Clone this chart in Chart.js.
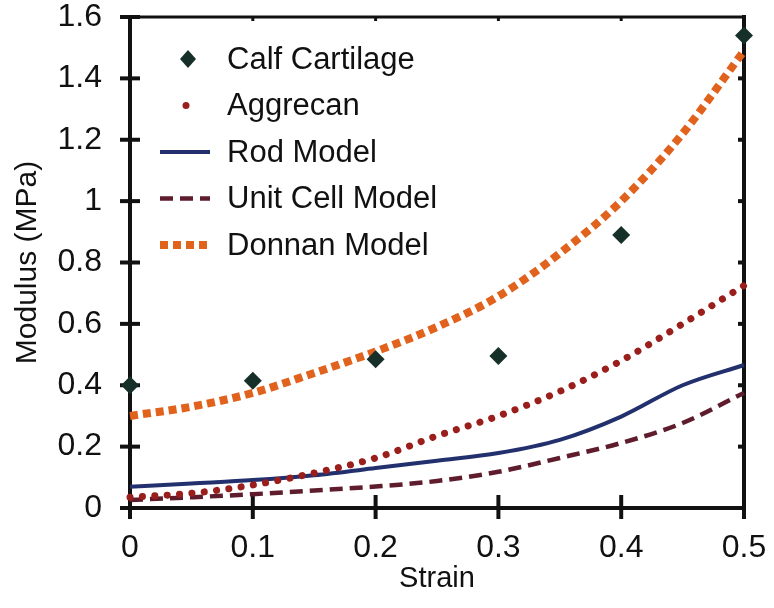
<!DOCTYPE html>
<html>
<head>
<meta charset="utf-8">
<script src="https://cdn.jsdelivr.net/npm/chart.js@4"></script>
<style>
  html, body { margin: 0; padding: 0; background: #fff; }
  #wrap { width: 774px; height: 608px; }
</style>
</head>
<body>
<div id="wrap"><canvas id="modulusChart" width="774" height="608"></canvas></div>
<script>
// data
const sampleStrain = [0, 0.1, 0.2, 0.3, 0.4, 0.5];
const calfCartilage = [0.40, 0.415, 0.485, 0.495, 0.89, 1.54];

const modelStrain = [0, 0.05, 0.1, 0.15, 0.2, 0.25, 0.3, 0.35, 0.4, 0.45, 0.5];
const aggrecan = [0.035, 0.048, 0.075, 0.114, 0.163, 0.235, 0.30, 0.38, 0.48, 0.60, 0.725];
const rodModel = [0.069, 0.08, 0.091, 0.107, 0.13, 0.154, 0.179, 0.222, 0.298, 0.40, 0.466];
const unitCellModel = [0.026, 0.035, 0.045, 0.057, 0.07, 0.088, 0.118, 0.163, 0.212, 0.277, 0.375];
const donnanModel = [0.30, 0.33, 0.375, 0.44, 0.51, 0.59, 0.69, 0.83, 1.00, 1.22, 1.49];

const xTickLabels = ["0", "0.1", "0.2", "0.3", "0.4", "0.5"];
const yTickLabels = ["0", "0.2", "0.4", "0.6", "0.8", "1", "1.2", "1.4", "1.6"];

const FONT = "'Liberation Sans', Arial, Helvetica, sans-serif";

function toXY(xs, ys) {
    return xs.map((x, i) => ({ x: x, y: ys[i] }));
}

// axes box with crossing ticks, drawn under the data
const framePlugin = {
    id: "frame",
    beforeDatasetsDraw(chart) {
        const { ctx, chartArea: a, scales: { x, y } } = chart;
        ctx.save();
        ctx.strokeStyle = "#111";
        ctx.lineCap = "square";
        ctx.lineWidth = 3;
        ctx.beginPath();
        ctx.moveTo(a.left, a.top);
        ctx.lineTo(a.right, a.top);
        ctx.stroke();
        ctx.lineWidth = 4;
        ctx.beginPath();
        ctx.moveTo(a.left, a.top);
        ctx.lineTo(a.left, a.bottom);
        ctx.lineTo(a.right, a.bottom);
        ctx.lineTo(a.right, a.top);
        ctx.stroke();

        ctx.lineCap = "butt";
        ctx.lineWidth = 4;
        y.ticks.forEach(t => {
            const py = y.getPixelForValue(t.value);
            ctx.beginPath();
            ctx.moveTo(a.left - 10, py);
            ctx.lineTo(a.left + 10, py);
            ctx.stroke();
            if (t.value > 0 && t.value < 1.6) {
                ctx.beginPath();
                ctx.moveTo(a.right - 6, py);
                ctx.lineTo(a.right, py);
                ctx.stroke();
            }
        });
        x.ticks.forEach(t => {
            const px = x.getPixelForValue(t.value);
            ctx.beginPath();
            ctx.moveTo(px, a.bottom - 13);
            ctx.lineTo(px, a.bottom + 11);
            ctx.stroke();
            if (t.value > 0 && t.value < 0.5) {
                ctx.lineWidth = 3;
                ctx.beginPath();
                ctx.moveTo(px, a.top);
                ctx.lineTo(px, a.top + 4);
                ctx.stroke();
                ctx.lineWidth = 4;
            }
        });
        ctx.restore();
    }
};

// legend inside the plot, top left
const insideLegend = {
    id: "insideLegend",
    afterDraw(chart) {
        const ctx = chart.ctx;
        const x0 = 160, x1 = 210, textX = 227, top = 59, step = 46.5;
        ctx.save();
        ctx.font = "31px " + FONT;
        ctx.textBaseline = "middle";
        ctx.fillStyle = "#111";
        chart.data.datasets.forEach((ds, i) => {
            const yy = top + i * step;
            ctx.save();
            if (ds.showLine === false) {
                ctx.fillStyle = ds.pointBackgroundColor;
                ctx.beginPath();
                ctx.moveTo(188, yy - 9);
                ctx.lineTo(196, yy);
                ctx.lineTo(188, yy + 9);
                ctx.lineTo(180, yy);
                ctx.closePath();
                ctx.fill();
            } else if (ds.legendDot) {
                ctx.fillStyle = ds.borderColor;
                ctx.beginPath();
                ctx.arc(186, yy, 3.5, 0, Math.PI * 2);
                ctx.fill();
            } else {
                ctx.strokeStyle = ds.borderColor;
                ctx.lineWidth = ds.borderWidth;
                ctx.lineCap = ds.borderCapStyle || "butt";
                ctx.setLineDash(ds.borderDash || []);
                ctx.beginPath();
                ctx.moveTo(x0, yy);
                ctx.lineTo(x1, yy);
                ctx.stroke();
            }
            ctx.restore();
            ctx.fillText(ds.label, textX, yy + 1);
        });
        ctx.restore();
    }
};

new Chart(document.getElementById("modulusChart"), {
    type: "scatter",
    data: {
        datasets: [
            {
                label: "Calf Cartilage",
                data: toXY(sampleStrain, calfCartilage),
                showLine: false,
                pointStyle: "rectRot",
                pointRadius: 9,
                pointBackgroundColor: "#163029",
                pointBorderColor: "#163029",
                pointBorderWidth: 0,
                clip: false,
                order: 0
            },
            {
                label: "Aggrecan",
                data: toXY(modelStrain, aggrecan),
                showLine: true,
                legendDot: true,
                borderColor: "#9a1f1c",
                borderWidth: 7,
                borderDash: [0.1, 12.3],
                borderCapStyle: "round",
                cubicInterpolationMode: "monotone",
                pointRadius: 0,
                clip: false,
                order: 2
            },
            {
                label: "Rod Model",
                data: toXY(modelStrain, rodModel),
                showLine: true,
                borderColor: "#22306e",
                borderWidth: 4,
                cubicInterpolationMode: "monotone",
                pointRadius: 0,
                clip: false,
                order: 3
            },
            {
                label: "Unit Cell Model",
                data: toXY(modelStrain, unitCellModel),
                showLine: true,
                borderColor: "#5e1c2c",
                borderWidth: 4.5,
                borderDash: [13, 7],
                cubicInterpolationMode: "monotone",
                pointRadius: 0,
                clip: false,
                order: 4
            },
            {
                label: "Donnan Model",
                data: toXY(modelStrain, donnanModel),
                showLine: true,
                borderColor: "#e0621c",
                borderWidth: 8,
                borderDash: [8, 5],
                cubicInterpolationMode: "monotone",
                pointRadius: 0,
                clip: false,
                order: 1
            }
        ]
    },
    options: {
        responsive: false,
        animation: false,
        layout: { padding: { left: 0, right: 30, top: 17, bottom: 0 } },
        plugins: {
            legend: { display: false },
            tooltip: { enabled: false }
        },
        scales: {
            x: {
                type: "linear",
                min: 0,
                max: 0.5,
                grid: { display: false },
                border: { display: false },
                ticks: {
                    stepSize: 0.1,
                    padding: 13,
                    color: "#111",
                    font: { family: FONT, size: 32 },
                    maxRotation: 0,
                    callback: (v, i) => xTickLabels[i]
                },
                title: {
                    display: true,
                    text: "Strain",
                    color: "#111",
                    font: { family: FONT, size: 29 },
                    padding: { top: 0, bottom: 12 }
                },
                afterFit: s => {
                    s.height = 100;
                    s.paddingLeft = 0;
                    s.paddingRight = 0;
                }
            },
            y: {
                min: 0,
                max: 1.6,
                grid: { display: false },
                border: { display: false },
                ticks: {
                    stepSize: 0.2,
                    padding: 20,
                    color: "#111",
                    font: { family: FONT, size: 32 },
                    callback: (v, i) => yTickLabels[i]
                },
                title: {
                    display: true,
                    text: "Modulus (MPa)",
                    color: "#111",
                    font: { family: FONT, size: 30 },
                    padding: { top: 10, bottom: 0 }
                },
                afterFit: s => {
                    s.width = 130;
                    s.paddingTop = 0;
                    s.paddingBottom = 0;
                }
            }
        }
    },
    plugins: [framePlugin, insideLegend]
});
</script>
</body>
</html>
